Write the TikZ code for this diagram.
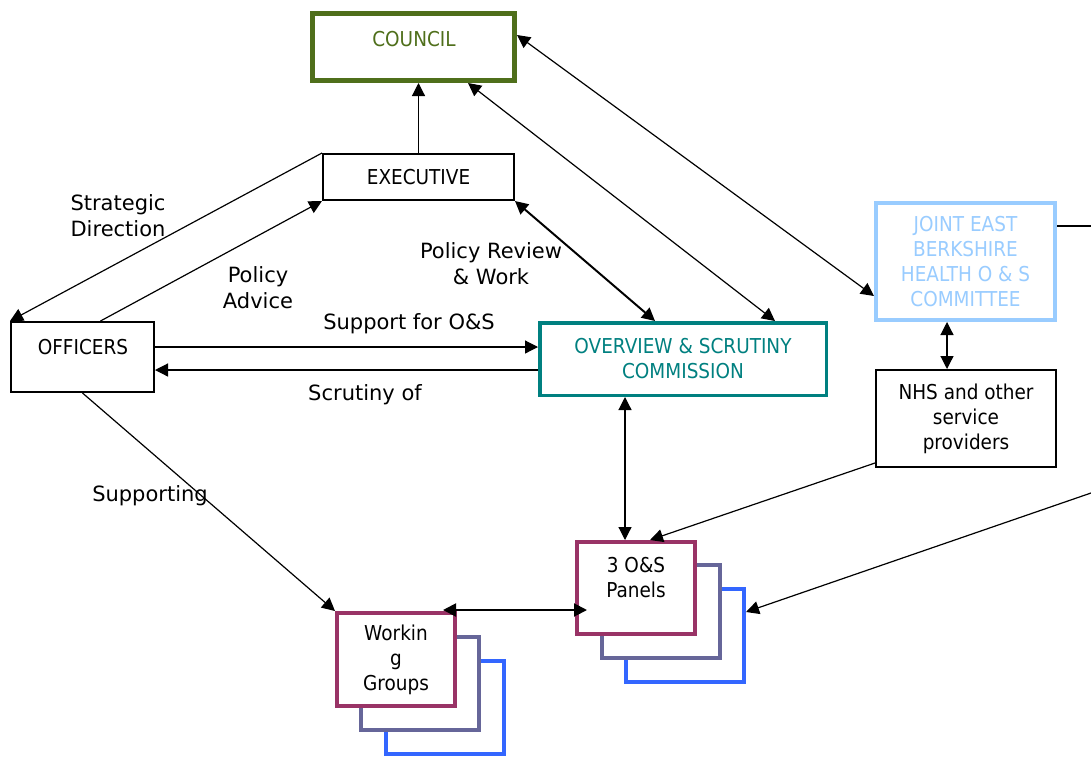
\documentclass[tikz,border=0pt]{standalone}
\usepackage{fontspec}
\setmainfont{DejaVu Sans}
\newfontfamily\boxfont{DejaVu Sans}[FakeStretch=0.9]
\usetikzlibrary{arrows.meta}
\definecolor{cgreen}{RGB}{79,111,27}
\definecolor{cteal}{RGB}{0,128,128}
\definecolor{clight}{RGB}{153,204,255}
\definecolor{cmaroon}{RGB}{153,51,102}
\definecolor{cslate}{RGB}{102,102,153}
\definecolor{cblue}{RGB}{51,102,255}
\tikzset{
 box/.style={draw, rectangle, inner sep=0pt, fill=white, align=center, font=\boxfont\fontsize{20.5}{25}\selectfont},
 boxtxt/.style={font=\boxfont\fontsize{20.5}{25}\selectfont, align=center, inner sep=0pt},
 lbl/.style={font=\fontsize{21}{26}\selectfont, align=center, inner sep=0pt},
 conn/.style={line width=1.2pt},
 tip/.style={-{Triangle[length=13pt,width=13pt]}},
 dbl/.style={{Triangle[length=13pt,width=13pt]}-{Triangle[length=13pt,width=13pt]}},
 stack/.style={box, line width=4pt, minimum width=118, minimum height=93},
}
\begin{document}
\begin{tikzpicture}[x=1pt,y=-1pt]
\useasboundingbox[fill=white] (0,0) rectangle (1091,756);
% boxes
\node[box, line width=5pt, draw=cgreen, minimum width=202, minimum height=67] (council) at (413.5,47) {};
\node[boxtxt, text=cgreen] (councilT) at (414,39) {COUNCIL};
\node[box, line width=2pt, minimum width=191, minimum height=46] (exec) at (418.5,177) {EXECUTIVE};
\node[box, line width=2pt, minimum width=143, minimum height=70] (off) at (82.5,357) {};
\node[boxtxt] (offT) at (83,347) {OFFICERS};
\node[box, line width=3.5pt, draw=cteal, text=cteal, minimum width=286.5, minimum height=72.5] (os) at (683,359) {OVERVIEW \& SCRUTINY\\COMMISSION};
\node[box, line width=4pt, draw=clight, text=clight, minimum width=179, minimum height=117] (joint) at (965.5,261.5) {JOINT EAST\\BERKSHIRE\\HEALTH O \& S\\COMMITTEE};
\node[box, line width=2pt, minimum width=180, minimum height=97] (nhs) at (966,418.5) {NHS and other\\service\\providers};
% panels stack
\node[stack, draw=cblue] (pan3) at (685,635.5) {};
\node[stack, draw=cslate] (pan2) at (661,611.5) {};
\node[stack, draw=cmaroon, minimum height=92] (pan1) at (636,588) {};
\node[boxtxt] (panT) at (636,578) {3 O\&S\\Panels};
% working groups stack
\node[stack, draw=cblue] (wg3) at (444.5,707) {};
\node[stack, draw=cslate] (wg2) at (420,683) {};
\node[stack, draw=cmaroon] (wg1) at (396,659.5) {Workin\\g\\Groups};
% connectors
\draw[conn,tip] (exec.north) -- (exec.north |- council.south);
\draw[conn,tip] (exec.north west) -- (off.north west);
\draw[conn,tip] ([xshift=18pt]off.north) -- (exec.south west);
\draw[line width=2pt,dbl] ([xshift=-28pt]os.north) -- (exec.south east);
\draw[conn,dbl] ([xshift=54.5pt]council.south) -- ([xshift=92pt]os.north);
\draw[conn,dbl] ([yshift=12pt]council.east) -- ([yshift=-34.5pt]joint.west);
\draw[conn,tip] ([yshift=10pt]off.east) -- ([yshift=10pt]off.east -| os.west);
\draw[conn,tip] ([yshift=-11pt]os.west) -- ([yshift=-11pt]os.west -| off.east);
\draw[conn,tip] (off.south) -- (wg1.north west);
\coordinate (osb) at ([xshift=-58pt]os.south);
\draw[conn,dbl] (osb) -- (osb |- pan1.north);
\draw[conn,tip] ([yshift=5pt]nhs.south west) -- ([xshift=14pt]pan1.north);
\coordinate (jout) at (1091,226);
\draw[conn] ([yshift=35.5pt]joint.east) -- (jout);
\coordinate (rin) at (1091,493);
\draw[conn,tip] (rin) -- ([yshift=23.5pt]pan3.east);
\coordinate (wgr) at ([xshift=-14pt,yshift=1pt]wg1.north east);
\draw[line width=2pt,dbl] (wgr) -- ([xshift=12pt]wgr -| pan1.west);
\coordinate (js) at ([xshift=-18.5pt]joint.south);
\draw[conn,dbl] (js) -- (js |- nhs.north);
% labels
\node[lbl] (lStrat) at (118,216) {Strategic\\Direction};
\node[lbl] (lPA) at (258,288) {Policy\\Advice};
\node[lbl] (lPR) at (491,264) {Policy Review\\\& Work};
\node[lbl] (lSup) at (409,324) {Support for O\&S};
\node[lbl] (lScr) at (365,395) {Scrutiny of};
\node[lbl] (lSupp) at (150,496) {Supporting};
\end{tikzpicture}
\end{document}
